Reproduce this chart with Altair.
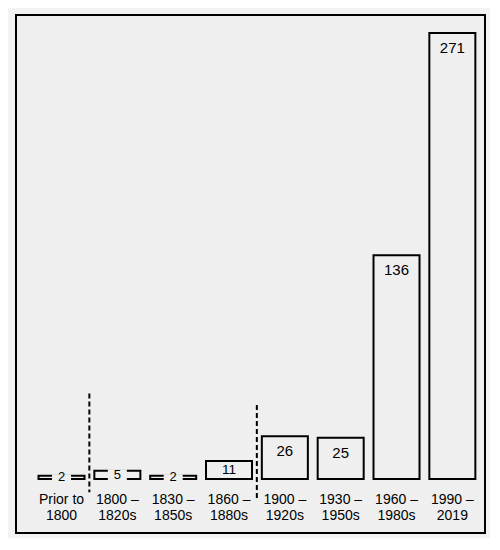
import altair as alt
import pandas as pd

categories = ["Prior to\n1800", "1800 –\n1820s", "1830 –\n1850s", "1860 –\n1880s",
              "1900 –\n1920s", "1930 –\n1950s", "1960 –\n1980s", "1990 –\n2019"]
counts = [2, 5, 2, 11, 26, 25, 136, 271]

# dashed separators: placed before these categories, with vertical extent in data units
sep_before = ["1800 –\n1820s", "1900 –\n1920s"]
sep_top = [52, 45]
sep_bottom = [-8, -13]

df = pd.DataFrame({"cat": categories, "n": counts})
df["half"] = df["n"] / 2
seps = pd.DataFrame({"cat": sep_before, "top": sep_top, "bottom": sep_bottom})

BG = "#f3f3f3"
FIELD = "#efefef"

xs = alt.Scale(domain=categories, paddingInner=0.176, paddingOuter=0.288, align=0.7)
ys = alt.Scale(domain=[-32.8, 281.9], nice=False, zero=False)

x_enc = alt.X(
    "cat:N", scale=xs, sort=categories, title=None,
    axis=alt.Axis(
        orient="bottom", offset=-41, domain=False, ticks=False, labelPadding=0,
        labelAngle=0, labelBaseline="top", labelFontSize=14, labelLineHeight=16,
        labelFont="Liberation Sans", labelColor="black",
        labelExpr="split(datum.label, '\\n')", labelLimit=200,
    ),
)

bars = alt.Chart(df).mark_bar(fill=FIELD, stroke="black", strokeWidth=2).encode(
    x=x_enc,
    y=alt.Y("n:Q", scale=ys, axis=None),
    y2=alt.datum(0),
)

small = df[df["n"] < 10]
masks = alt.Chart(small).mark_bar(fill=FIELD, stroke=FIELD, strokeWidth=3, width=16).encode(
    x=alt.X("cat:N", scale=xs, sort=categories),
    y=alt.Y("n:Q", scale=ys),
    y2=alt.datum(0),
)

small_txt = alt.Chart(small).mark_text(
    font="Liberation Sans", fontSize=13, baseline="middle", color="black"
).encode(
    x=alt.X("cat:N", scale=xs, sort=categories),
    y=alt.Y("half:Q", scale=ys),
    text="n:Q",
)

mid = df[(df["n"] >= 10) & (df["n"] < 20)]
mid_txt = alt.Chart(mid).mark_text(
    font="Liberation Sans", fontSize=13.5, baseline="middle", color="black"
).encode(
    x=alt.X("cat:N", scale=xs, sort=categories),
    y=alt.Y("half:Q", scale=ys),
    text="n:Q",
)

big = df[df["n"] >= 20]
big_txt = alt.Chart(big).mark_text(
    font="Liberation Sans", fontSize=15, baseline="top", dy=8, color="black"
).encode(
    x=alt.X("cat:N", scale=xs, sort=categories),
    y=alt.Y("n:Q", scale=ys),
    text="n:Q",
)

rules = alt.Chart(seps).mark_rule(
    color="black", strokeWidth=2, strokeDash=[5, 3], xOffset=-5
).encode(
    x=alt.X("cat:N", scale=xs, sort=categories, bandPosition=0),
    y=alt.Y("top:Q", scale=ys),
    y2="bottom:Q",
)

chart = alt.layer(bars, masks, small_txt, mid_txt, big_txt, rules).properties(
    width=469, height=518,
    padding={"left": 8, "top": 7, "right": 5, "bottom": 5},
    background=BG,
).configure_view(
    stroke="black", strokeWidth=2, fill=FIELD
)

chart.save("out.html", embed_options={"renderer": "svg", "actions": False})
